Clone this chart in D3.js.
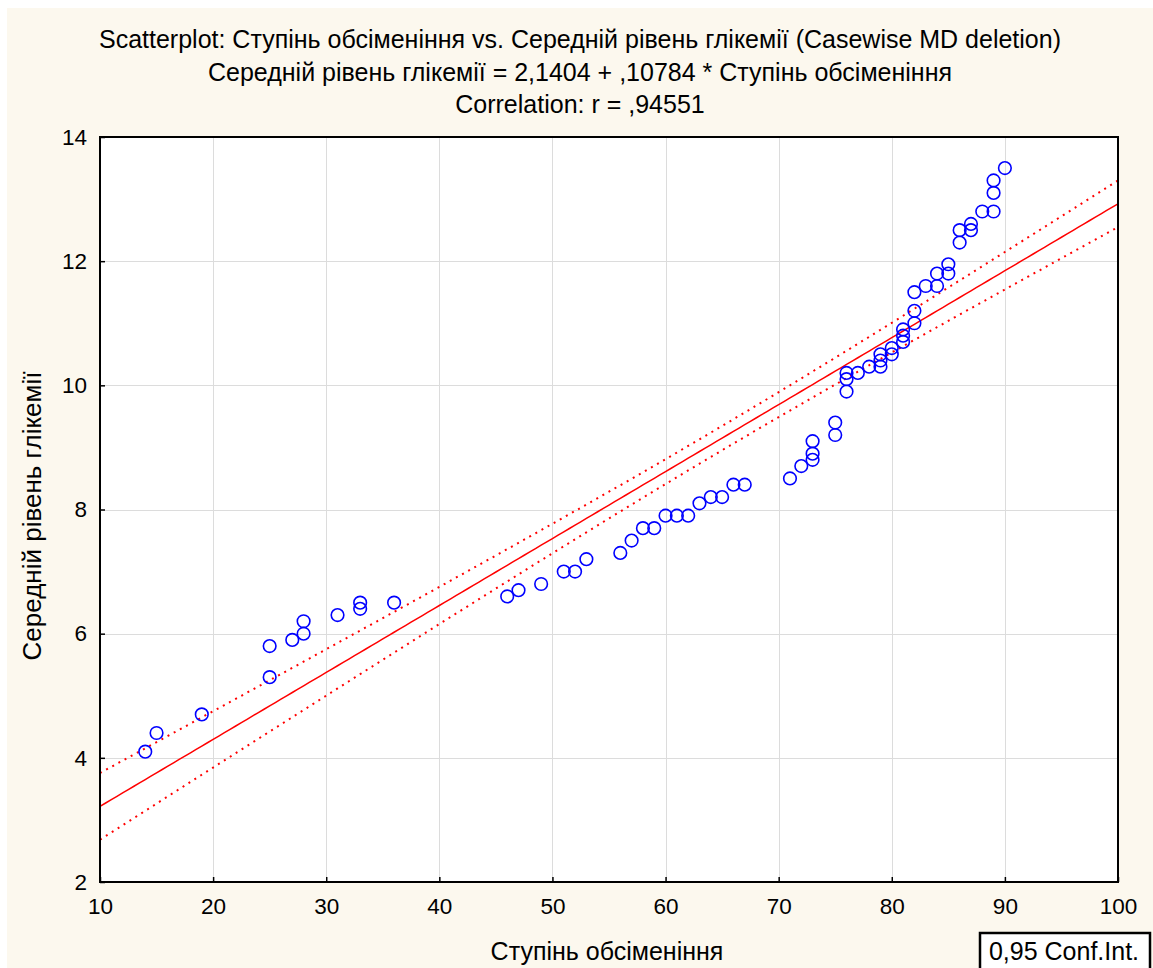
<!DOCTYPE html>
<html>
<head>
<meta charset="utf-8">
<script src="https://cdn.jsdelivr.net/npm/d3@7"></script>
<style>
  html, body { margin: 0; padding: 0; background: #ffffff; }
  svg { display: block; font-family: "Liberation Sans", Arial, sans-serif; }
</style>
</head>
<body>
<svg id="chart" width="1153" height="968"></svg>
<script>
// Ступінь обсіменіння (x) і середній рівень глікемії (y) для кожного спостереження
const contamination = [
  14, 15, 19, 25, 25, 27, 28, 28, 31, 33, 33, 36,
  46, 47, 49, 51, 52, 53, 56, 57, 58, 59, 60, 61, 62, 63, 64, 65, 66, 67,
  71, 72, 73, 73, 73, 75, 75, 76, 76, 76, 77, 78, 79, 79, 79, 80, 80,
  81, 81, 81, 82, 82, 82, 83, 84, 84, 85, 85, 86, 86, 87, 87, 88, 89, 89, 89, 90
];
const glycemia = [
  4.1, 4.4, 4.7, 5.3, 5.8, 5.9, 6.0, 6.2, 6.3, 6.4, 6.5, 6.5,
  6.6, 6.7, 6.8, 7.0, 7.0, 7.2, 7.3, 7.5, 7.7, 7.7, 7.9, 7.9, 7.9, 8.1, 8.2, 8.2, 8.4, 8.4,
  8.5, 8.7, 8.8, 8.9, 9.1, 9.2, 9.4, 9.9, 10.1, 10.2, 10.2, 10.3, 10.3, 10.4, 10.5, 10.5, 10.6,
  10.7, 10.8, 10.9, 11.0, 11.2, 11.5, 11.6, 11.6, 11.8, 11.8, 11.95, 12.3, 12.5, 12.5, 12.6, 12.8, 12.8, 13.1, 13.3, 13.5
];

// Коефіцієнти регресії з заголовка
const intercept = 2.1404;
const slope = 0.10784;

const xTicks = [10, 20, 30, 40, 50, 60, 70, 80, 90, 100];
const yTicks = [2, 4, 6, 8, 10, 12, 14];

const titleLines = [
  "Scatterplot: Ступінь обсіменіння vs. Середній рівень глікемії (Casewise MD deletion)",
  "Середній рівень глікемії = 2,1404 + ,10784 * Ступінь обсіменіння",
  "Correlation: r = ,94551"
];
const xLabel = "Ступінь обсіменіння";
const yLabel = "Середній рівень глікемії";
const legendLabel = "0,95 Conf.Int.";

const svg = d3.select("#chart");
const W = 1153, H = 968;
const plot = { left: 100, right: 1118, top: 137, bottom: 882 };

// cream page background
svg.append("rect").attr("x", 7).attr("y", 8).attr("width", W - 7).attr("height", H - 8)
  .attr("fill", "#fcf8ee");

const x = d3.scaleLinear().domain([10, 100]).range([plot.left, plot.right]);
const y = d3.scaleLinear().domain([2, 14]).range([plot.bottom, plot.top]);

// plot area
svg.append("rect")
  .attr("x", plot.left).attr("y", plot.top)
  .attr("width", plot.right - plot.left).attr("height", plot.bottom - plot.top)
  .attr("fill", "#ffffff");

// grid
const grid = svg.append("g").attr("stroke", "#dcdcdc").attr("stroke-width", 1);
grid.selectAll("line.gx").data(xTicks.slice(1, -1)).join("line")
  .attr("x1", d => Math.round(x(d)) + 0.5).attr("x2", d => Math.round(x(d)) + 0.5)
  .attr("y1", plot.top).attr("y2", plot.bottom);
grid.selectAll("line.gy").data(yTicks.slice(1, -1)).join("line")
  .attr("y1", d => Math.round(y(d)) + 0.5).attr("y2", d => Math.round(y(d)) + 0.5)
  .attr("x1", plot.left).attr("x2", plot.right);

// regression line and 95% confidence band of the mean
const n = contamination.length;
const xMean = d3.mean(contamination);
const sxx = d3.sum(contamination, v => (v - xMean) ** 2);
const sse = d3.sum(contamination, (v, i) => (glycemia[i] - (intercept + slope * v)) ** 2);
const s = Math.sqrt(sse / (n - 2));
const tCrit = 1.995; // t(0.975, df = n - 2)
const xs = d3.range(10, 100.01, 0.5);
const fit = v => intercept + slope * v;
const half = v => tCrit * s * Math.sqrt(1 / n + (v - xMean) ** 2 / sxx);

const clipId = "plotclip";
svg.append("clipPath").attr("id", clipId).append("rect")
  .attr("x", plot.left).attr("y", plot.top)
  .attr("width", plot.right - plot.left).attr("height", plot.bottom - plot.top);

const lines = svg.append("g").attr("clip-path", `url(#${clipId})`);
const lineGen = f => d3.line().x(v => x(v)).y(v => y(f(v)))(xs);

lines.append("path").attr("d", lineGen(fit))
  .attr("fill", "none").attr("stroke", "#ff0000").attr("stroke-width", 1.5);
[v => fit(v) + half(v), v => fit(v) - half(v)].forEach(f => {
  lines.append("path").attr("d", lineGen(f))
    .attr("fill", "none").attr("stroke", "#ff0000").attr("stroke-width", 2)
    .attr("stroke-dasharray", "2,5");
});

// points
svg.append("g").selectAll("circle").data(contamination).join("circle")
  .attr("cx", d => x(d)).attr("cy", (d, i) => y(glycemia[i]))
  .attr("r", 6.3)
  .attr("fill", "none").attr("stroke", "#0000ff").attr("stroke-width", 1.6);

// frame
svg.append("rect")
  .attr("x", plot.left).attr("y", plot.top)
  .attr("width", plot.right - plot.left).attr("height", plot.bottom - plot.top)
  .attr("fill", "none").attr("stroke", "#000").attr("stroke-width", 2);

// axes (ticks point inward)
const xAxis = svg.append("g").attr("transform", `translate(0,${plot.bottom})`)
  .call(d3.axisBottom(x).tickValues(xTicks).tickSizeInner(-5).tickSizeOuter(0).tickPadding(16));
xAxis.select(".domain").remove();
xAxis.selectAll("text").attr("font-size", 22.5).attr("fill", "#000")
  .attr("font-family", "Liberation Sans, Arial, sans-serif");
xAxis.selectAll("line").attr("stroke", "#000").attr("stroke-width", 1.5);

const yAxis = svg.append("g").attr("transform", `translate(${plot.left},0)`)
  .call(d3.axisLeft(y).tickValues(yTicks).tickSizeInner(-5).tickSizeOuter(0).tickPadding(13));
yAxis.select(".domain").remove();
yAxis.selectAll("text").attr("font-size", 22.5).attr("fill", "#000")
  .attr("font-family", "Liberation Sans, Arial, sans-serif");
yAxis.selectAll("line").attr("stroke", "#000").attr("stroke-width", 1.5);

// titles
svg.append("g").selectAll("text").data(titleLines).join("text")
  .attr("x", 580).attr("y", (d, i) => 48 + i * 32.5)
  .attr("text-anchor", "middle").attr("font-size", 25).attr("fill", "#000")
  .text(d => d);

svg.append("text").attr("x", 607).attr("y", 960).attr("text-anchor", "middle")
  .attr("font-size", 25).attr("fill", "#000").text(xLabel);

svg.append("text").attr("transform", `translate(41,516) rotate(-90)`)
  .attr("text-anchor", "middle").attr("font-size", 26).attr("fill", "#000").text(yLabel);

// legend
const lg = svg.append("g");
lg.append("rect").attr("x", 980).attr("y", 933).attr("width", 170).attr("height", 40)
  .attr("fill", "#ffffff").attr("stroke", "#000").attr("stroke-width", 2.5);
lg.append("text").attr("x", 1064).attr("y", 960).attr("text-anchor", "middle")
  .attr("font-size", 25).attr("fill", "#000").text(legendLabel);
</script>
</body>
</html>
